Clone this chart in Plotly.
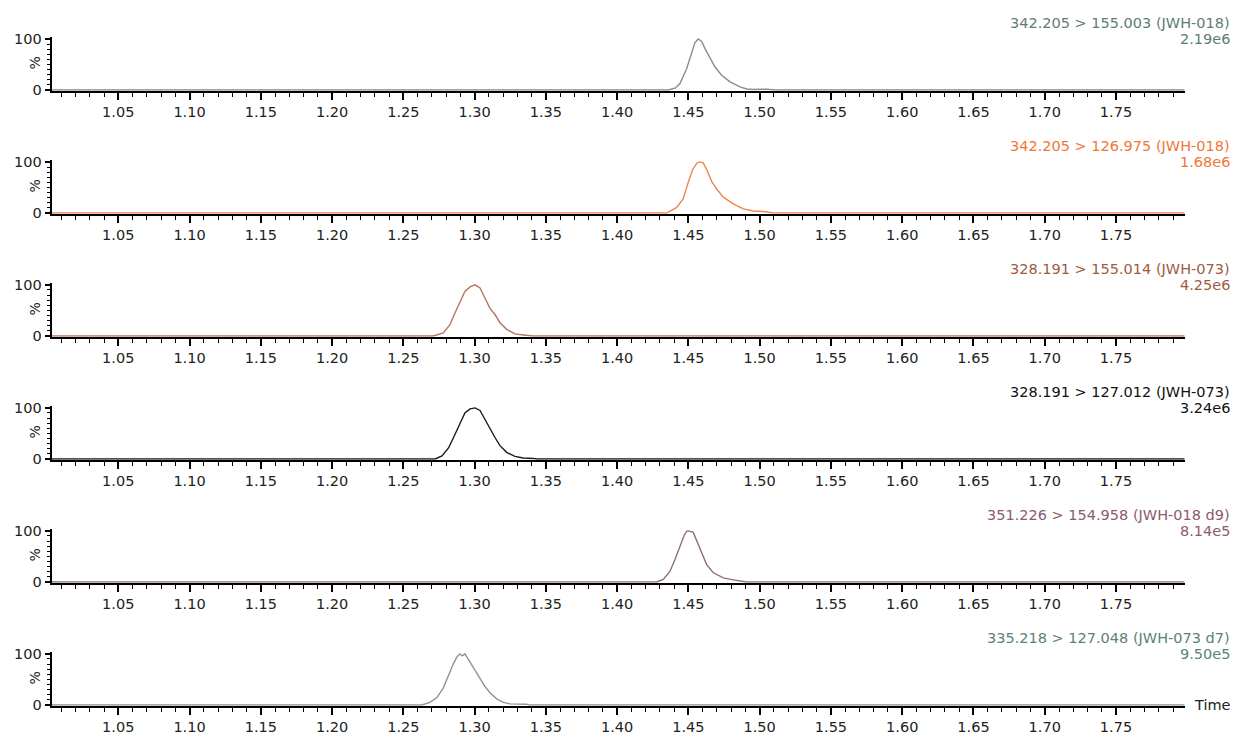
import plotly.graph_objects as go

W, H = 1236, 737

# ---------------- data ----------------
channel_titles = [
    "342.205 > 155.003 (JWH-018)",
    "342.205 > 126.975 (JWH-018)",
    "328.191 > 155.014 (JWH-073)",
    "328.191 > 127.012 (JWH-073)",
    "351.226 > 154.958 (JWH-018 d9)",
    "335.218 > 127.048 (JWH-073 d7)",
]
channel_maxima = ["2.19e6", "1.68e6", "4.25e6", "3.24e6", "8.14e5", "9.50e5"]

time_p1 = [1.003, 1.436, 1.441, 1.4442, 1.4488, 1.4523, 1.4546, 1.4569, 1.4593, 1.4618, 1.4651, 1.4687,
           1.4733, 1.4792, 1.4862, 1.4909, 1.495, 1.5002, 1.5051, 1.5107, 1.798]
int_p1 = [0, 0, 4, 13, 42, 74, 93, 100, 95, 80, 64, 45, 29, 16, 6, 2, 1, 1.5, 1.5, 0, 0]

time_p2 = [1.003, 1.4348, 1.4418, 1.4464, 1.4499, 1.4530, 1.4558, 1.4576, 1.4604, 1.4628, 1.4663, 1.4698,
           1.4745, 1.4815, 1.4885, 1.4955, 1.5025, 1.5096, 1.798]
int_p2 = [0, 0, 11, 28, 60, 85, 97, 100, 98, 85, 62, 47, 31, 18, 8, 4, 3, 0, 0]

time_p3 = [1.003, 1.2710, 1.2780, 1.2827, 1.2862, 1.2897, 1.2932, 1.2968, 1.3003, 1.3038, 1.3073, 1.3108,
           1.3143, 1.3178, 1.3225, 1.3283, 1.3342, 1.3412, 1.798]
int_p3 = [0, 0, 6, 22, 45, 67, 87, 96, 100, 94, 74, 54, 42, 26, 13, 4, 2, 0, 0]

time_p4 = [1.003, 1.2724, 1.2771, 1.2818, 1.2862, 1.2897, 1.2932, 1.2968, 1.3003, 1.3038, 1.3073, 1.3108,
           1.3143, 1.3178, 1.3225, 1.3283, 1.3342, 1.3412, 1.3436, 1.798]
int_p4 = [0, 0, 6, 22, 48, 70, 90, 98, 100, 95, 77, 58, 42, 26, 13, 5, 2, 1, 0, 0]

time_p5 = [1.003, 1.4277, 1.4324, 1.4371, 1.4406, 1.4441, 1.4471, 1.4488, 1.4499, 1.4534, 1.4558, 1.4593,
           1.4628, 1.4675, 1.4745, 1.4815, 1.4874, 1.4909, 1.798]
int_p5 = [0, 0, 5, 21, 44, 69, 92, 99, 100, 97, 81, 56, 34, 18, 8, 4, 2, 0, 0]

time_p6 = [1.003, 1.2629, 1.2687, 1.2734, 1.2780, 1.2815, 1.2850, 1.2878, 1.2897, 1.2913, 1.2932, 1.2968,
           1.3003, 1.3038, 1.3073, 1.3108, 1.3155, 1.3201, 1.3248, 1.3365, 1.3377, 1.798]
int_p6 = [0, 0, 5, 14, 33, 58, 80, 95, 100, 96, 100, 84, 68, 52, 36, 24, 12, 5, 2, 1.5, 0, 0]

times = [time_p1, time_p2, time_p3, time_p4, time_p5, time_p6]
intensities = [int_p1, int_p2, int_p3, int_p4, int_p5, int_p6]

x_range = [1.0033, 1.7984]
y_top_label = "100"

# ---------------- styles ----------------
label_colors = ["#5e7d72", "#f07637", "#a05a40", "#111111", "#8c5a6e", "#5b8275"]
line_colors = ["#7f918a", "#ef8456", "#b47660", "#1a1a1a", "#8e6f7a", "#869892"]
FONT = "DejaVu Sans, Liberation Sans, Arial, sans-serif"
FS = 14.5

fig = go.Figure()

x0_px, x1_px = 51.7, 1185.0
y_lo, y_hi = -1.5, 104.0
px_per_unit = 0.52
panel_h = (y_hi - y_lo) * px_per_unit

annotations = []
for i in range(6):
    zero_px = 85.5 + 125.2 * i
    bottom_px = zero_px + (0 - y_lo) * px_per_unit
    top_px = bottom_px - panel_h
    ax = "" if i == 0 else str(i + 1)
    fig.add_trace(go.Scatter(
        x=times[i], y=intensities[i], mode="lines",
        line=dict(color=line_colors[i], width=1.4),
        xaxis="x" + ax, yaxis="y" + ax, showlegend=False, hoverinfo="skip",
    ))
    fig.layout["xaxis" + ax] = dict(
        domain=[x0_px / W, x1_px / W], anchor="y" + ax, range=x_range,
        showgrid=False, zeroline=False, showline=True, linecolor="#000", linewidth=2,
        ticks="outside", ticklen=7, tickwidth=1.5, tickcolor="#000",
        tickmode="linear", tick0=1.05, dtick=0.05, tickformat=".2f",
        tickfont=dict(family=FONT, size=FS, color="#222"),
        minor=dict(ticks="outside", ticklen=4, tickwidth=1.2, tickcolor="#000",
                   tickmode="linear", tick0=1.0, dtick=0.01, showgrid=False),
    )
    fig.layout["yaxis" + ax] = dict(
        domain=[1 - bottom_px / H, 1 - top_px / H], anchor="x" + ax, range=[y_lo, y_hi],
        showgrid=False, zeroline=False, showline=True, linecolor="#000", linewidth=2,
        ticks="outside", ticklen=5, tickwidth=1.5, tickcolor="#000",
        tickmode="array", tickvals=[0, 100], ticktext=["0", y_top_label],
        tickfont=dict(family=FONT, size=FS, color="#222"),
        minor=dict(ticks="outside", ticklen=3, tickwidth=1, tickcolor="#000",
                   tickmode="linear", tick0=0, dtick=10, showgrid=False),
    )
    hundred_px = zero_px - 100 * px_per_unit
    annotations.append(dict(
        text=channel_titles[i], x=1232 / W, y=1 - (hundred_px - 16) / H,
        xref="paper", yref="paper", xanchor="right", yanchor="middle", showarrow=False,
        font=dict(family=FONT, size=FS, color=label_colors[i]),
    ))
    annotations.append(dict(
        text=channel_maxima[i], x=1232 / W, y=1 - hundred_px / H,
        xref="paper", yref="paper", xanchor="right", yanchor="middle", showarrow=False,
        font=dict(family=FONT, size=FS, color=label_colors[i]),
    ))
    annotations.append(dict(
        text="%", x=35 / W, y=1 - (zero_px - 27) / H,
        xref="paper", yref="paper", xanchor="center", yanchor="middle", showarrow=False,
        textangle=-90, font=dict(family=FONT, size=14, color="#222"),
    ))

annotations.append(dict(
    text="Time", x=1192 / W, y=1 - 712 / H, xref="paper", yref="paper",
    xanchor="left", yanchor="middle", showarrow=False,
    font=dict(family=FONT, size=FS, color="#222"),
))

fig.update_layout(
    width=W, height=H, margin=dict(l=0, r=0, t=0, b=0),
    paper_bgcolor="white", plot_bgcolor="white",
    annotations=annotations, showlegend=False,
)

fig.write_html(
    "out.html",
    config={"displayModeBar": False},
    post_script="document.body.style.margin='0';document.body.style.padding='0';"
                "document.documentElement.style.overflow='hidden';",
)
